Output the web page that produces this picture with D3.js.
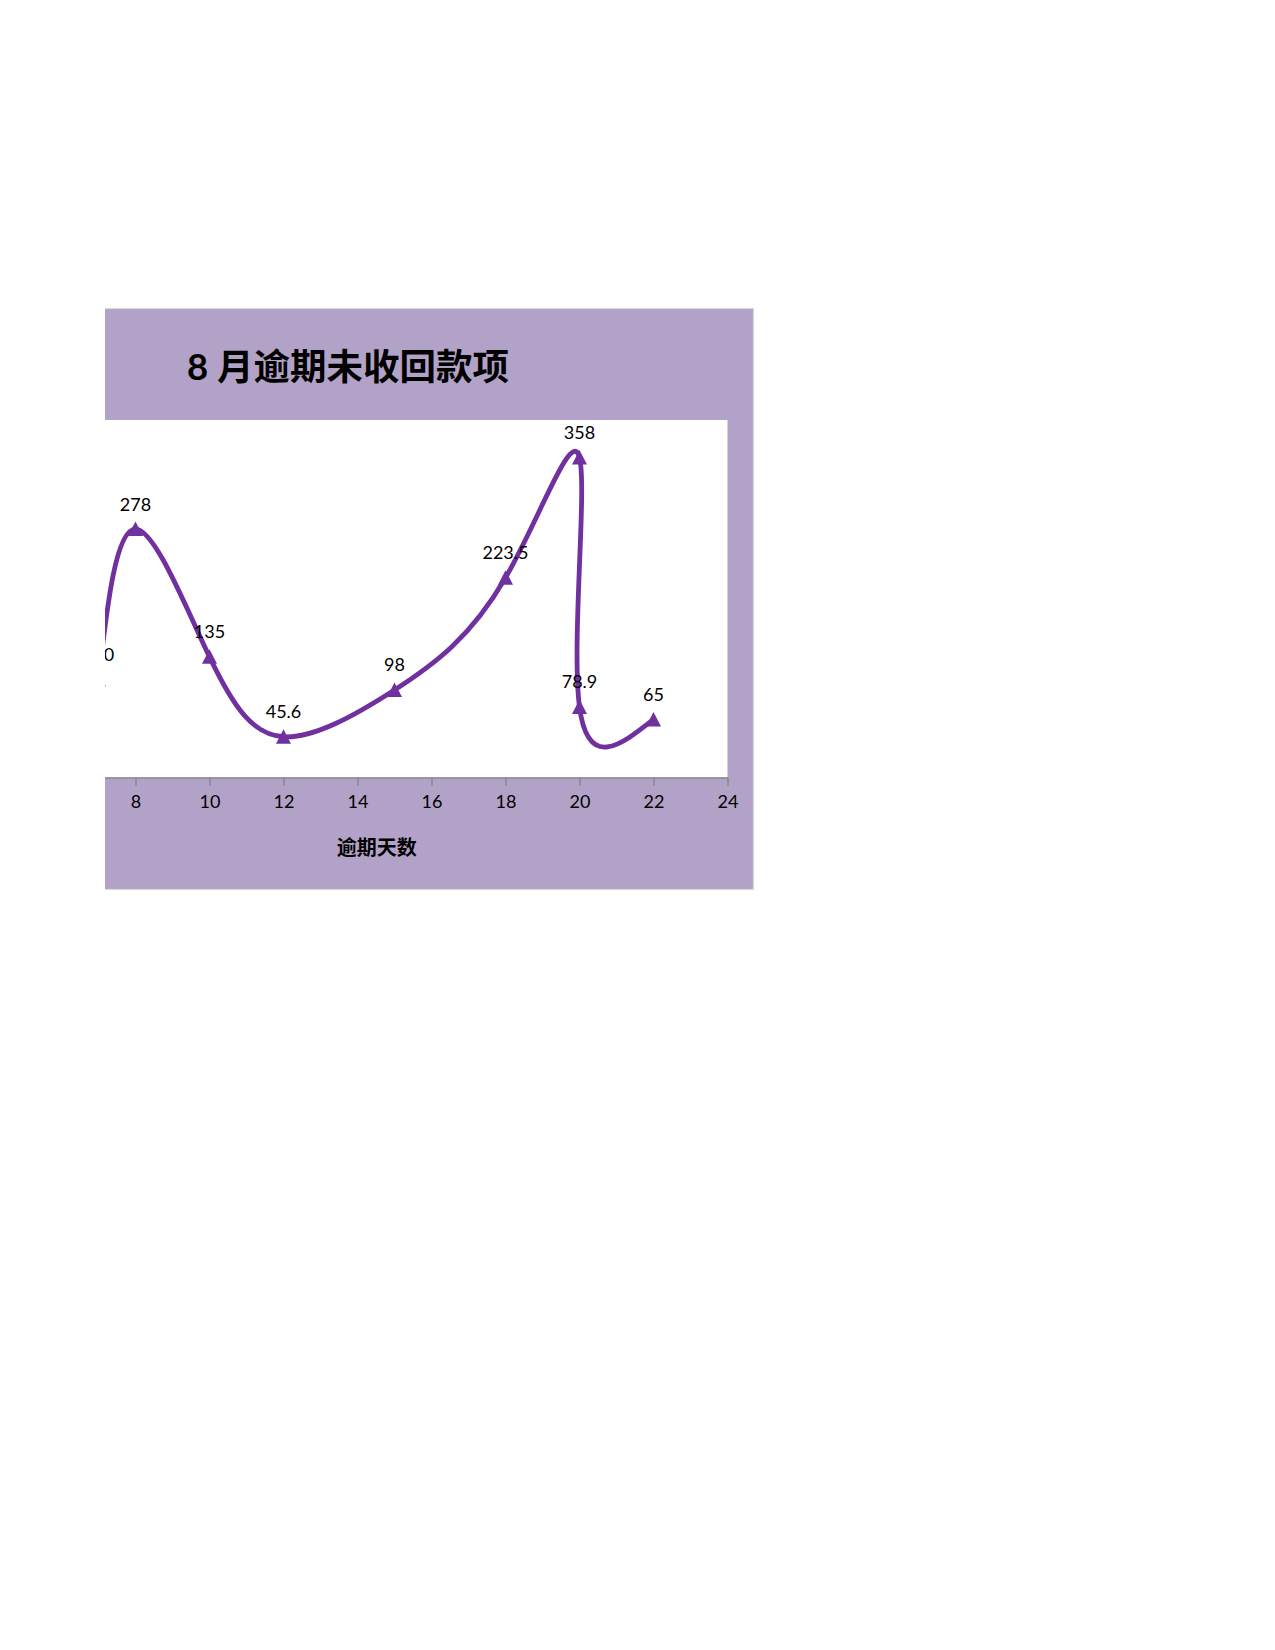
<!DOCTYPE html>
<html>
<head>
<meta charset="utf-8">
<script src="https://cdn.jsdelivr.net/npm/d3@7"></script>
<style>
  html, body { margin: 0; padding: 0; background: #ffffff; }
  svg { display: block; }
</style>
</head>
<body>
<svg id="chart" width="1275" height="1650"></svg>
<script>
// ---- data ----
const titleText = "8 月逾期未收回款项";
const xAxisTitle = "逾期天数";
const overdueDays = [7, 8, 10, 12, 15, 18, 20, 20, 22];
const amounts = [110, 278, 135, 45.6, 98, 223.5, 358, 78.9, 65];
const amountLabels = ["110", "278", "135", "45.6", "98", "223.5", "358", "78.9", "65"];
const xTicks = [6, 8, 10, 12, 14, 16, 18, 20, 22, 24];
const xDomain = [6, 24];
const yDomain = [0, 400];

// ---- layout ----
const svg = d3.select("#chart");
const clipLeft = 105;
const box = { left: -60, right: 753.5, top: 308.5, bottom: 889.5 };
const plot = { right: 727.5, top: 420, bottom: 777.5 };
const pxPerDay = 37;

const x = d3.scaleLinear()
  .domain(xDomain)
  .range([plot.right - (xDomain[1] - xDomain[0]) * pxPerDay, plot.right]);
const y = d3.scaleLinear().domain(yDomain).range([plot.bottom, plot.top]);

svg.append("defs").append("clipPath").attr("id", "pageClip")
  .append("rect").attr("x", clipLeft).attr("y", 0).attr("width", 1275 - clipLeft).attr("height", 1650);

const g = svg.append("g").attr("clip-path", "url(#pageClip)");

// chart background
g.append("rect")
  .attr("x", box.left).attr("y", box.top)
  .attr("width", box.right - box.left).attr("height", box.bottom - box.top)
  .attr("fill", "#B3A2C7").attr("stroke", "#D9D9D9").attr("stroke-width", 1.2);

// plot area
g.append("rect")
  .attr("x", x.range()[0]).attr("y", plot.top)
  .attr("width", x.range()[1] - x.range()[0]).attr("height", plot.bottom - plot.top)
  .attr("fill", "#ffffff");

// title
g.append("text")
  .attr("x", 187).attr("y", 379.5)
  .attr("font-family", "Lato, 'Noto Sans CJK SC', sans-serif")
  .attr("font-weight", "bold").attr("font-size", 36.5).attr("fill", "#000")
  .text(titleText);

// x axis
const xAxis = d3.axisBottom(x).tickValues(xTicks).tickSizeInner(8).tickSizeOuter(0).tickPadding(10)
  .tickFormat(d3.format("d"));
const ax = g.append("g").attr("transform", `translate(0,${plot.bottom})`).call(xAxis);
ax.select(".domain").attr("stroke", "#898989").attr("stroke-width", 1.5);
ax.selectAll(".tick line").attr("stroke", "#898989").attr("stroke-width", 1.5);
ax.selectAll(".tick text")
  .attr("font-family", "Lato, sans-serif").attr("font-size", 18).attr("fill", "#000");

// x axis title
g.append("text")
  .attr("x", 376.7).attr("y", 854.5).attr("text-anchor", "middle")
  .attr("font-family", "'Noto Sans CJK SC', sans-serif")
  .attr("font-weight", "bold").attr("font-size", 20).attr("fill", "#000")
  .text(xAxisTitle);

// ---- smoothed line: parametric natural cubic spline (uniform parameter) through the data,
// converted to Bezier segments and drawn through the scales
function naturalSplineDerivs(vals) {
  const n = vals.length;
  const M = new Array(n).fill(0);
  const cp = [], dp = [];
  for (let i = 1; i < n - 1; i++) {
    const rhs = 6 * (vals[i + 1] - 2 * vals[i] + vals[i - 1]);
    const den = 4 - (i > 1 ? cp[i - 1] : 0);
    cp[i] = 1 / den;
    dp[i] = (rhs - (i > 1 ? dp[i - 1] : 0)) / den;
  }
  for (let i = n - 2; i >= 1; i--) M[i] = dp[i] - (i < n - 2 ? cp[i] * M[i + 1] : 0);
  const m = [];
  for (let i = 0; i < n - 1; i++) m[i] = (vals[i + 1] - vals[i]) - (2 * M[i] + M[i + 1]) / 6;
  m[n - 1] = (vals[n - 1] - vals[n - 2]) + (M[n - 2] + 2 * M[n - 1]) / 6;
  return m;
}
const series = overdueDays.map((d, i) => ({ d, v: amounts[i], label: amountLabels[i] }));
const mx = naturalSplineDerivs(overdueDays), my = naturalSplineDerivs(amounts);
const path = d3.path();
path.moveTo(x(overdueDays[0]), y(amounts[0]));
for (let i = 0; i < series.length - 1; i++) {
  path.bezierCurveTo(
    x(overdueDays[i] + mx[i] / 3), y(amounts[i] + my[i] / 3),
    x(overdueDays[i + 1] - mx[i + 1] / 3), y(amounts[i + 1] - my[i + 1] / 3),
    x(overdueDays[i + 1]), y(amounts[i + 1]));
}
g.append("path")
  .attr("d", path.toString()).attr("fill", "none")
  .attr("stroke", "#7030A0").attr("stroke-width", 4.8)
  .attr("stroke-linejoin", "round").attr("stroke-linecap", "round");

// markers
g.selectAll("path.marker").data(series).enter().append("path")
  .attr("class", "marker")
  .attr("transform", p => `translate(${x(p.d)},${y(p.v)})`)
  .attr("d", "M0,-7.5L7.5,7L-7.5,7Z")
  .attr("fill", "#7030A0");

// data labels
g.selectAll("text.dl").data(series).enter().append("text")
  .attr("class", "dl")
  .attr("x", p => x(p.d)).attr("y", p => y(p.v) - 18.5)
  .attr("text-anchor", "middle")
  .attr("font-family", "Lato, sans-serif").attr("font-size", 18).attr("fill", "#000")
  .text(p => p.label);
</script>
</body>
</html>
